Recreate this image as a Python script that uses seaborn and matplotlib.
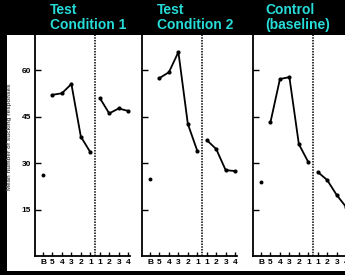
import numpy as np
import pandas as pd
import matplotlib
matplotlib.use("Agg")
import matplotlib.pyplot as plt
import seaborn as sns
from matplotlib.patches import Rectangle

# Data
x_labels = ["B", "5", "4", "3", "2", "1", "1", "2", "3", "4"]
panel_titles = ["Test\nCondition 1", "Test\nCondition 2", "Control\n(baseline)"]

cond1_base = 26.0
cond1_pre = [52.0, 52.5, 55.5, 38.5, 33.5]
cond1_post = [51.0, 46.0, 47.6, 46.8]

cond2_base = 24.8
cond2_pre = [57.4, 59.3, 65.8, 42.6, 33.9]
cond2_post = [37.4, 34.5, 27.7, 27.4]

ctrl_base = 23.9
ctrl_pre = [43.2, 57.1, 57.7, 36.1, 30.3]
ctrl_post = [27.1, 24.5, 19.7, 15.8]

y_ticks = [15, 30, 45, 60]
y_label = "Mean number of sucking responses"

sns.set_style("ticks")
plt.rcParams["font.family"] = ["Liberation Sans", "DejaVu Sans"]

W, H = 345, 275
fig = plt.figure(figsize=(W / 100, H / 100), dpi=100, facecolor="black")

# white scanned page area
fig.patches.append(Rectangle((7 / W, (H - 271) / H), (W - 7) / W, (271 - 35) / H,
                             transform=fig.transFigure, facecolor="white",
                             edgecolor="none", zorder=-10))

panels = [
    (cond1_base, cond1_pre, cond1_post),
    (cond2_base, cond2_pre, cond2_post),
    (ctrl_base, ctrl_pre, ctrl_post),
]
axis_left_px = [35, 142, 253]
title_left_px = [50, 157, 265]

for i, (base, pre, post) in enumerate(panels):
    ax = fig.add_axes([axis_left_px[i] / W, (H - 256) / H, 95 / W, (256 - 35) / H])
    ax.set_facecolor("none")

    df = pd.DataFrame({
        "pos": list(range(len(x_labels))),
        "value": [base] + pre + post,
        "segment": ["base"] + ["pre"] * len(pre) + ["post"] * len(post),
    })
    for seg in ["pre", "post"]:
        sub = df[df["segment"] == seg]
        sns.lineplot(data=sub, x="pos", y="value", ax=ax, color="black",
                     linewidth=1.3, marker="o", markersize=3, markeredgewidth=0)
    sns.scatterplot(data=df[df["segment"] == "base"], x="pos", y="value", ax=ax,
                    color="black", s=8, linewidth=0)

    ax.axvline(5.5, color="black", linestyle=(0, (1, 0.8)), linewidth=1.1)

    ax.set_xlim(-0.85, 9.2)
    ax.set_ylim(0, 71.3)
    ax.set_xticks(range(len(x_labels)))
    ax.set_xticklabels(x_labels, fontsize=6, fontweight="bold")
    ax.set_yticks(y_ticks)
    if i == 0:
        ax.set_yticklabels([str(t) for t in y_ticks], fontsize=6, fontweight="bold")
    else:
        ax.set_yticklabels([])
    ax.tick_params(axis="x", direction="in", length=3, width=1, pad=2, colors="black")
    ax.tick_params(axis="y", direction="in", length=4, width=1, pad=3, colors="black")
    ax.set_xlabel("")
    ax.set_ylabel("")
    sns.despine(ax=ax)
    for s in ["left", "bottom"]:
        ax.spines[s].set_linewidth(1.3)
        ax.spines[s].set_color("black")

    fig.text(title_left_px[i] / W, 1 - 3 / H, panel_titles[i], color="#27dcd8",
             fontsize=10, fontweight="bold", va="top", ha="left", linespacing=1.1)

fig.text(10 / W, (H - 137) / H, y_label, rotation=90, fontsize=4.5,
         color="#555555", va="center", ha="center", fontweight="bold")

fig.savefig("out.png", dpi=100, facecolor="black")
